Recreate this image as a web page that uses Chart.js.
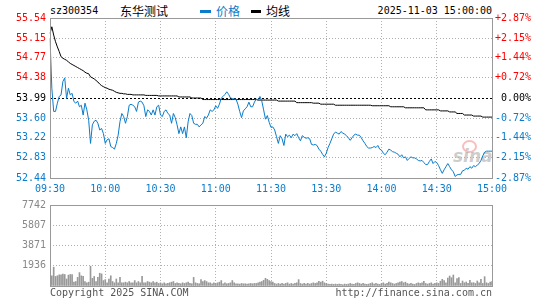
<!DOCTYPE html>
<html>
<head>
<meta charset="utf-8">
<script src="https://cdn.jsdelivr.net/npm/chart.js@4.4.1/dist/chart.umd.min.js"></script>
<style>
  body { margin: 0; background: #fff; }
  #wrap { position: relative; width: 545px; height: 300px; overflow: hidden; font-family: "DejaVu Sans Mono", monospace; font-size: 10px; }
  .t { position: absolute; white-space: nowrap; line-height: 12px; }
  .cjk { font-family: "Noto Sans CJK SC", sans-serif; font-size: 12px; }
  canvas { position: absolute; left: 0; }
</style>
</head>
<body>
<div id="wrap">
  <!-- watermark -->
  <div style="position:absolute;left:462px;top:140px;width:11px;height:9px;border-radius:50%;border:2px solid rgba(235,70,70,0.35);"></div>
  <div class="t" style="left:453px;top:147px;font:italic bold 17px 'DejaVu Sans';line-height:18px;color:rgba(110,110,110,0.35);">sina</div>

  <div class="t" style="left:50px;top:5px;">sz300354</div>
  <div class="t cjk" style="left:120px;top:5px;">东华测试</div>
  <div style="position:absolute;left:200px;top:10px;width:11px;height:3px;background:#0a7ccb;"></div>
  <div class="t cjk" style="left:216px;top:5px;color:#0a7ccb;">价格</div>
  <div style="position:absolute;left:251px;top:10px;width:10px;height:3px;background:#000;"></div>
  <div class="t cjk" style="left:266px;top:5px;">均线</div>
  <div class="t" style="right:53px;top:5px;">2025-11-03 15:00:00</div>

  <canvas id="priceChart" width="545" height="200" style="top:0"></canvas>
  <canvas id="volChart" width="545" height="105" style="top:195px"></canvas>

  <div class="t" style="left:50px;top:287px;color:#555;">Copyright 2025 SINA.COM</div>
  <div class="t" style="right:53px;top:287px;color:#555;">http://finance.sina.com.cn</div>
</div>
<script>
// --- data ---
const prevClose = 53.99;
const priceTicks = ['55.54', '55.15', '54.77', '54.38', '53.99', '53.60', '53.22', '52.83', '52.44'];
const pctTicks = ['+2.87%', '+2.15%', '+1.44%', '+0.72%', '0.00%', '-0.72%', '-1.44%', '-2.15%', '-2.87%'];
const timeTicks = ['09:30', '10:00', '10:30', '11:00', '11:30', '13:30', '14:00', '14:30', '15:00'];
const timeTickIdx = [0, 30, 60, 90, 120, 150, 180, 210, 240];
const volTicks = ['7742', '5807', '3871', '1936', ''];

const price = [
  55.15, 54.18, 53.73, 53.73, 53.89, 54.02, 54.05, 54.31, 54.38, 53.98,
  54.18, 54.05, 54.08, 53.92, 53.89, 53.93, 53.82, 53.85, 53.66, 53.89,
  53.76, 53.56, 53.11, 53.47, 53.54, 53.56, 53.50, 53.37, 53.40, 53.30,
  53.11, 53.18, 53.20, 53.05, 53.03, 53.00, 53.11, 53.27, 53.53, 53.69,
  53.63, 53.50, 53.63, 53.85, 53.87, 53.85, 53.82, 53.73, 53.91, 53.93,
  53.91, 53.84, 53.63, 53.76, 53.73, 53.66, 53.76, 53.66, 53.82, 53.85,
  53.66, 53.63, 53.73, 53.76, 53.69, 53.66, 53.50, 53.69, 53.61, 53.47,
  53.30, 53.43, 53.30, 53.43, 53.22, 53.53, 53.69, 53.65, 53.50, 53.48,
  53.48, 53.43, 53.47, 53.50, 53.63, 53.60, 53.66, 53.76, 53.73, 53.76,
  53.84, 53.79, 53.87, 53.99, 54.02, 54.06, 54.11, 54.06, 53.99, 53.98,
  53.97, 53.97, 53.87, 53.73, 53.61, 53.74, 53.78, 53.82, 53.91, 53.82,
  53.82, 53.91, 53.97, 53.95, 54.02, 53.93, 53.76, 53.58, 53.65, 53.52,
  53.42, 53.43, 53.37, 53.24, 53.11, 53.26, 53.20, 53.07, 53.29, 53.24,
  53.27, 53.22, 53.29, 53.26, 53.30, 53.22, 53.16, 53.26, 53.23, 53.21,
  53.22, 53.20, 53.09, 53.08, 53.09, 53.07, 53.00, 52.96, 52.90, 52.85,
  52.92, 53.03, 53.11, 53.20, 53.29, 53.33, 53.31, 53.29, 53.34, 53.31,
  53.29, 53.26, 53.22, 53.17, 53.22, 53.27, 53.29, 53.27, 53.27, 53.22,
  53.16, 53.11, 53.05, 53.02, 53.02, 53.03, 53.05, 53.03, 53.07, 53.00,
  52.98, 52.92, 52.89, 52.94, 53.00, 52.98, 52.95, 52.94, 52.92, 52.90,
  52.85, 52.89, 52.83, 52.85, 52.78, 52.82, 52.85, 52.83, 52.83, 52.81,
  52.78, 52.77, 52.78, 52.74, 52.70, 52.70, 52.76, 52.81, 52.72, 52.76,
  52.74, 52.68, 52.60, 52.53, 52.60, 52.66, 52.72, 52.66, 52.60, 52.56,
  52.47, 52.50, 52.51, 52.51, 52.58, 52.59, 52.63, 52.61, 52.66, 52.63,
  52.68, 52.66, 52.69, 52.72, 52.78, 52.87, 52.94, 52.96, 52.96, 52.96,
  52.96
];

const avgPrice = [
  55.24, 55.37, 55.21, 55.08, 54.98, 54.89, 54.79, 54.76, 54.74, 54.72,
  54.69, 54.66, 54.64, 54.62, 54.60, 54.58, 54.56, 54.54, 54.52, 54.49,
  54.47, 54.46, 54.40, 54.38, 54.36, 54.33, 54.30, 54.26, 54.23, 54.21,
  54.19, 54.18, 54.16, 54.15, 54.14, 54.12, 54.10, 54.09, 54.08, 54.08,
  54.07, 54.07, 54.06, 54.06, 54.06, 54.05, 54.05, 54.05, 54.05, 54.05,
  54.05, 54.05, 54.04, 54.04, 54.04, 54.04, 54.04, 54.04, 54.04, 54.03,
  54.03, 54.03, 54.03, 54.03, 54.03, 54.03, 54.03, 54.03, 54.03, 54.03,
  54.01, 54.01, 54.01, 54.01, 54.01, 54.01, 54.01, 53.99, 53.99, 53.99,
  53.99, 53.99, 53.99, 53.96, 53.96, 53.96, 53.96, 53.96, 53.96, 53.96,
  53.96, 53.96, 53.96, 53.96, 53.96, 53.96, 53.96, 53.96, 53.96, 53.96,
  53.96, 53.96, 53.96, 53.96, 53.96, 53.96, 53.96, 53.96, 53.96, 53.96,
  53.96, 53.96, 53.96, 53.95, 53.95, 53.95, 53.95, 53.95, 53.95, 53.95,
  53.95, 53.95, 53.95, 53.95, 53.93, 53.93, 53.93, 53.93, 53.93, 53.93,
  53.93, 53.93, 53.93, 53.93, 53.90, 53.90, 53.90, 53.90, 53.90, 53.90,
  53.90, 53.90, 53.90, 53.89, 53.89, 53.89, 53.89, 53.87, 53.87, 53.87,
  53.87, 53.87, 53.87, 53.87, 53.87, 53.85, 53.85, 53.85, 53.85, 53.85,
  53.85, 53.85, 53.85, 53.85, 53.85, 53.85, 53.85, 53.85, 53.85, 53.85,
  53.85, 53.85, 53.85, 53.85, 53.85, 53.84, 53.84, 53.84, 53.84, 53.84,
  53.84, 53.84, 53.84, 53.84, 53.84, 53.82, 53.82, 53.82, 53.82, 53.82,
  53.82, 53.82, 53.82, 53.80, 53.80, 53.80, 53.80, 53.80, 53.80, 53.80,
  53.80, 53.80, 53.80, 53.80, 53.76, 53.76, 53.76, 53.76, 53.76, 53.76,
  53.76, 53.76, 53.74, 53.74, 53.74, 53.74, 53.74, 53.72, 53.72, 53.72,
  53.72, 53.69, 53.69, 53.69, 53.69, 53.66, 53.66, 53.66, 53.66, 53.66,
  53.64, 53.64, 53.64, 53.64, 53.64, 53.62, 53.62, 53.62, 53.62, 53.62,
  53.62
];

const volume = [
  7742, 976, 1800, 915, 976, 1068, 1068, 1129, 1098, 671,
  1037, 1098, 1098, 366, 427, 824, 1281, 976, 915, 427,
  305, 366, 1891, 732, 915, 427, 824, 1220, 1159, 519,
  610, 305, 671, 976, 427, 305, 671, 305, 824, 305,
  305, 366, 305, 427, 305, 305, 519, 305, 427, 305,
  915, 305, 305, 427, 366, 305, 427, 305, 366, 244,
  305, 214, 305, 214, 244, 305, 366, 427, 244, 305,
  244, 214, 305, 244, 305, 366, 244, 214, 824, 305,
  244, 214, 610, 427, 519, 427, 305, 305, 214, 305,
  244, 305, 366, 519, 214, 305, 214, 244, 305, 519,
  305, 214, 214, 183, 244, 214, 214, 183, 214, 244,
  214, 244, 244, 305, 366, 427, 549, 732, 640, 519,
  427, 366, 244, 183, 244, 183, 244, 183, 244, 305,
  183, 244, 183, 244, 305, 610, 244, 183, 244, 183,
  244, 183, 244, 305, 244, 305, 458, 366, 458, 305,
  244, 183, 152, 183, 152, 183, 152, 183, 152, 122,
  183, 152, 183, 244, 183, 152, 244, 305, 244, 183,
  244, 183, 152, 183, 244, 305, 183, 244, 183, 152,
  244, 305, 183, 244, 366, 305, 244, 183, 244, 305,
  366, 427, 305, 366, 244, 183, 244, 183, 152, 244,
  305, 244, 305, 458, 244, 183, 244, 305, 183, 244,
  305, 244, 458, 640, 519, 305, 760, 955, 795, 1050,
  305, 700, 795, 244, 477, 305, 382, 244, 541, 305,
  318, 244, 477, 305, 636, 244, 890, 305, 244, 366,
  427
];

// minute categories: 09:30-11:30, 13:01-15:00
const minutes = [];
for (let m = 9 * 60 + 30; m <= 11 * 60 + 30; m++) minutes.push(String(Math.floor(m / 60)).padStart(2, '0') + ':' + String(m % 60).padStart(2, '0'));
for (let m = 13 * 60 + 1; m <= 15 * 60; m++) minutes.push(String(Math.floor(m / 60)).padStart(2, '0') + ':' + String(m % 60).padStart(2, '0'));

// --- styles ---
const blue = '#0a7ccb';
const red = '#ff0000';
const gridGray = '#b0b0b0';
const tickFont = { family: 'DejaVu Sans Mono', size: 10 };

const colorByTick = (ctx) => ctx.index > 4 ? red : (ctx.index === 4 ? '#000' : blue);
const priceTickVals = priceTicks.map(Number).reverse();

// frame + prev close dashed line
const frame = {
  id: 'frame',
  beforeDatasetsDraw(chart, args, opts) {
    if (opts.base == null) return;
    const { ctx, chartArea: a, scales } = chart;
    const y = Math.round(scales.y.getPixelForValue(opts.base)) + 0.5;
    ctx.save();
    ctx.strokeStyle = '#000';
    ctx.lineWidth = 1;
    ctx.setLineDash([2, 2]);
    ctx.beginPath();
    ctx.moveTo(a.left, y);
    ctx.lineTo(a.right, y);
    ctx.stroke();
    ctx.restore();
  },
  afterDatasetsDraw(chart) {
    const { ctx, chartArea: a } = chart;
    ctx.save();
    ctx.strokeStyle = '#999';
    ctx.lineWidth = 1;
    ctx.strokeRect(Math.round(a.left) + 0.5, Math.round(a.top) + 0.5, Math.round(a.right - a.left), Math.round(a.bottom - a.top));
    ctx.restore();
  }
};

const xTicks = (s) => { s.ticks = timeTickIdx.map(v => ({ value: v })); };

new Chart(document.getElementById('priceChart'), {
  type: 'line',
  data: {
    labels: minutes,
    datasets: [
      { label: '价格', data: price, borderColor: blue, borderWidth: 1, pointRadius: 0, tension: 0 },
      { label: '均线', data: avgPrice, borderColor: '#000', borderWidth: 1, pointRadius: 0, tension: 0 }
    ]
  },
  options: {
    responsive: false,
    animation: false,
    layout: { padding: { top: 18, right: 14, left: 0, bottom: 0 } },
    plugins: { legend: { display: false }, tooltip: { enabled: false }, frame: { base: prevClose } },
    scales: {
      x: {
        offset: false,
        afterBuildTicks: xTicks,
        afterFit: (s) => { s.height = 22; },
        grid: { color: gridGray, drawTicks: false, borderDash: [1, 2] },
        border: { display: false, dash: [1, 2] },
        ticks: { autoSkip: false, maxRotation: 0, padding: 5, color: blue, font: tickFont, callback: (v, i) => timeTicks[i] }
      },
      y: {
        position: 'left',
        min: 52.44, max: 55.54,
        afterBuildTicks: (s) => { s.ticks = priceTickVals.map(v => ({ value: v })); },
        afterFit: (s) => { s.width = 50; },
        grid: { color: (ctx) => ctx.index === 4 ? 'rgba(0,0,0,0)' : gridGray, drawTicks: false, borderDash: [1, 2] },
        border: { display: false, dash: [1, 2] },
        ticks: { padding: 4, color: colorByTick, font: tickFont, callback: (v, i) => priceTicks[priceTicks.length - 1 - i] }
      },
      y2: {
        position: 'right',
        min: 52.44, max: 55.54,
        afterBuildTicks: (s) => { s.ticks = priceTickVals.map(v => ({ value: v })); },
        afterFit: (s) => { s.width = 39; },
        grid: { display: false, drawTicks: false },
        border: { display: false },
        ticks: { padding: 2, crossAlign: 'far', color: colorByTick, font: tickFont, callback: (v, i) => pctTicks[pctTicks.length - 1 - i] }
      }
    }
  },
  plugins: [frame]
});

new Chart(document.getElementById('volChart'), {
  type: 'bar',
  data: {
    labels: minutes,
    datasets: [{ data: volume, backgroundColor: '#999', barThickness: 1, categoryPercentage: 1, barPercentage: 1 }]
  },
  options: {
    responsive: false,
    animation: false,
    layout: { padding: { top: 6, right: 53, left: 0, bottom: 14 } },
    plugins: { legend: { display: false }, tooltip: { enabled: false } },
    scales: {
      x: {
        offset: false,
        afterBuildTicks: xTicks,
        afterFit: (s) => { s.height = 0; },
        grid: { offset: false, color: gridGray, drawTicks: false, borderDash: [1, 2] },
        border: { display: false, dash: [1, 2] },
        ticks: { display: false }
      },
      y: {
        min: 0, max: 7742,
        afterBuildTicks: (s) => { s.ticks = [0, 1936, 3871, 5807, 7742].map(v => ({ value: v })); },
        afterFit: (s) => { s.width = 50; },
        grid: { color: gridGray, drawTicks: false, borderDash: [1, 2] },
        border: { display: false, dash: [1, 2] },
        ticks: { padding: 4, color: '#888', font: tickFont, callback: (v, i) => volTicks[volTicks.length - 1 - i] }
      }
    }
  },
  plugins: [frame]
});
</script>
</body>
</html>
